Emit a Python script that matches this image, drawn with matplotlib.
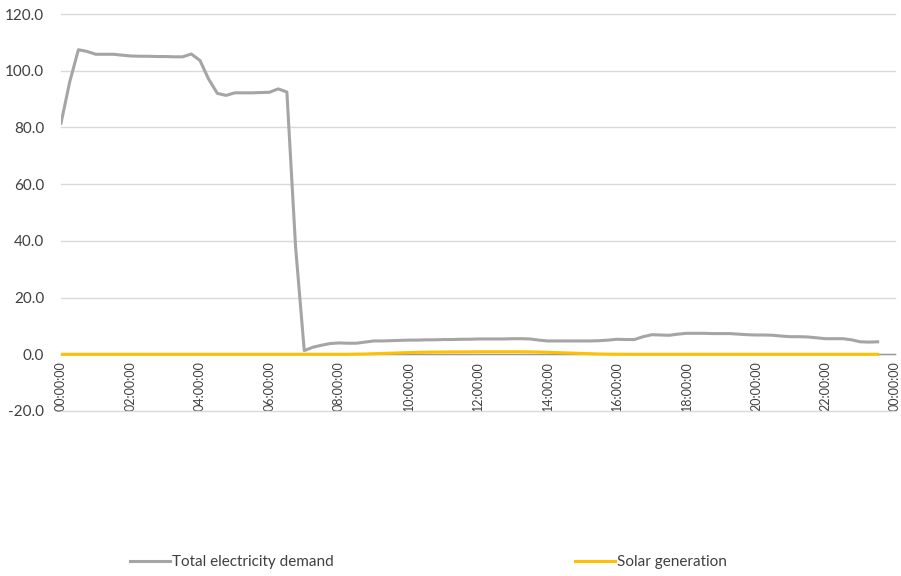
import matplotlib.pyplot as plt
import numpy as np

plt.rcParams['font.family'] = ['Lato', 'DejaVu Sans']

# 15-minute readings from 00:00 to 23:30
demand = [81.5, 96.0, 107.4, 106.8, 105.8, 105.8, 105.8, 105.5,
          105.2, 105.1, 105.1, 105.0, 105.0, 104.9, 104.9, 105.9,
          103.6, 97.0, 92.0, 91.3, 92.2, 92.2, 92.2, 92.3,
          92.4, 93.6, 92.5, 38.0, 1.3, 2.5, 3.2, 3.8,
          4.0, 3.9, 3.9, 4.3, 4.7, 4.7, 4.8, 4.9,
          5.0, 5.0, 5.1, 5.1, 5.2, 5.2, 5.3, 5.3,
          5.4, 5.4, 5.4, 5.4, 5.5, 5.5, 5.4, 5.0,
          4.7, 4.7, 4.7, 4.7, 4.7, 4.7, 4.8, 5.0,
          5.3, 5.2, 5.2, 6.2, 6.9, 6.8, 6.7, 7.1,
          7.4, 7.4, 7.4, 7.3, 7.3, 7.3, 7.1, 6.9,
          6.8, 6.8, 6.7, 6.4, 6.2, 6.2, 6.1, 5.8,
          5.5, 5.5, 5.5, 5.1, 4.4, 4.3, 4.4]
solar = [0.0] * 34 + [0.05, 0.1, 0.2, 0.3, 0.4, 0.5, 0.6, 0.7,
                      0.75, 0.8, 0.8, 0.85, 0.85, 0.85, 0.9, 0.9,
                      0.9, 0.9, 0.9, 0.9, 0.85, 0.8, 0.7, 0.6,
                      0.5, 0.4, 0.3, 0.2, 0.1, 0.05, 0.02, 0.0] + [0.0] * 29
hours = np.arange(len(demand)) * 0.25
tick_hours = np.arange(0, 25, 2)
tick_labels = ['%02d:00:00' % (h % 24) for h in tick_hours]

fig = plt.figure(figsize=(9.01, 5.76), dpi=100)
ax = fig.add_axes([61 / 901, 1 - 411 / 576, 834 / 901, 397 / 576])

# spine position first: moving it resets the ticks
for s in ['left', 'right', 'top']:
    ax.spines[s].set_visible(False)
ax.spines['bottom'].set_position(('data', 0))
ax.spines['bottom'].set_color('#999999')
ax.spines['bottom'].set_linewidth(1)

ax.plot(hours, demand, color='#A5A5A5', lw=2.2, label='Total electricity demand', zorder=3)
ax.plot(hours, solar, color='#FFC000', lw=2.2, label='Solar generation', zorder=4)

ax.set_xlim(0, 24)
ax.set_ylim(-20, 120)
ax.set_yticks(np.arange(-20, 121, 20))
ax.set_yticklabels(['%.1f' % v for v in np.arange(-20, 121, 20)])
ax.set_xticks(tick_hours)
ax.set_xticklabels(tick_labels, rotation=90, va='top', ha='center')

ax.yaxis.grid(True, color='#D9D9D9', lw=1)
for gl in ax.get_ygridlines():
    gl.set_clip_on(False)
ax.set_axisbelow(True)

ax.tick_params(axis='y', length=0, pad=12, labelsize=11, labelcolor='#404040')
ax.tick_params(axis='x', length=0, pad=5, labelsize=9, labelcolor='#404040')

fig.legend(loc='center left', bbox_to_anchor=(130 / 901, 1 - 562 / 576), ncol=2,
           frameon=False, fontsize=11, handlelength=2.6, handletextpad=0.15,
           columnspacing=15.8, borderpad=0, borderaxespad=0, labelcolor='#404040')

fig.savefig('out.png', dpi=100)
